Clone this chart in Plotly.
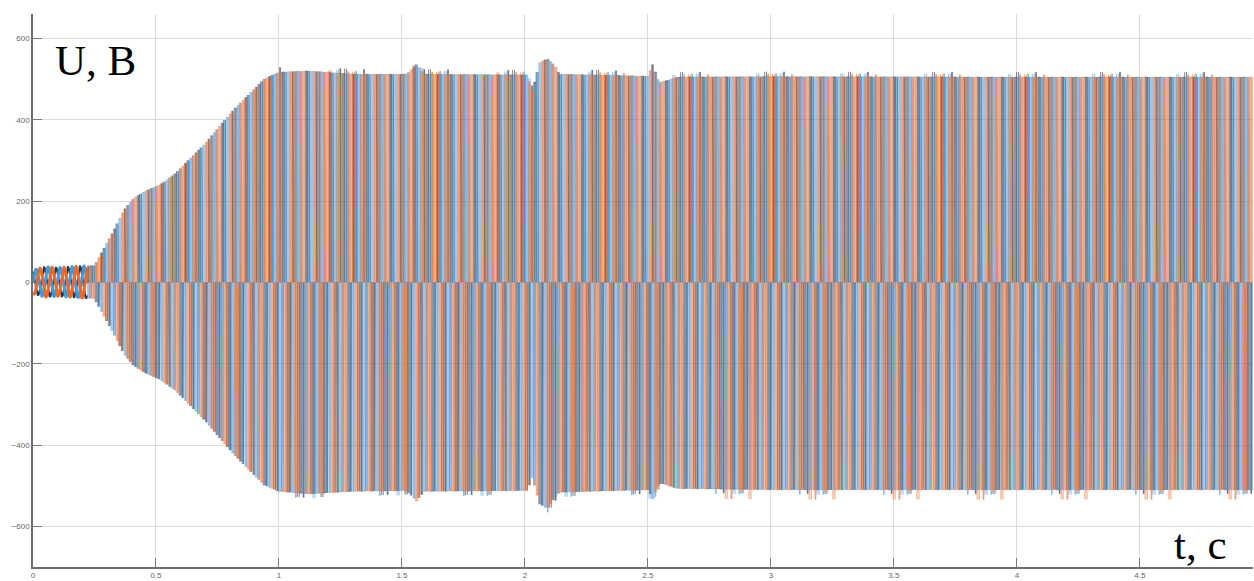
import numpy as np
import plotly.graph_objects as go

# Envelope of the inverter line voltage (V) versus time (s)
env_t = [0.00, 0.05, 0.10, 0.15, 0.20, 0.25, 0.29, 0.33, 0.37, 0.41, 0.455, 0.52,
         0.58, 0.64, 0.70, 0.76, 0.82, 0.88, 0.94, 1.00, 1.12, 1.30, 1.52, 1.56,
         1.59, 2.01, 2.03, 2.06, 2.09, 2.12, 2.14, 2.50, 2.52, 2.545, 2.57, 2.62,
         3.00, 4.00, 4.96]
env_upper = [30, 38, 36, 38, 40, 41, 85, 129, 178, 207, 224, 241,
             268, 305, 341, 385, 427, 463, 500, 517, 520, 512, 512, 536,
             512, 510, 470, 540, 550, 535, 512, 507, 536, 492, 495, 505,
             506, 505, 505]
env_lower = [-28, -36, -34, -36, -38, -40, -84, -128, -176, -205, -222, -240,
             -266, -303, -340, -383, -425, -462, -498, -514, -520, -514, -512, -538,
             -514, -512, -478, -545, -556, -530, -516, -510, -532, -494, -497, -507,
             -510, -510, -510]

# switching overshoot on short pulses (V), per line voltage: (positive, negative)
overshoot_v = [(8, -12), (6, -24), (12, -10)]
# time from which the overshoot appears, per line voltage (s)
overshoot_from = [1.0, 2.6, 1.0]

# PWM / drive parameters
f_fund = 20.5         # Hz, fundamental of the line voltage
f_carrier = 93.7      # Hz, asynchronous triangular carrier
mod_index = 0.95
t_pwm_start = 0.22    # s, modulator enabled

series_names = ["U_AB", "U_BC", "U_CA"]
series_colors = ["#3b9be3", "#ea6a2c", "#2f3646"]
series_width = [3.0, 3.0, 2.0]
series_fill = ["rgba(120,150,200,0.34)", "rgba(242,148,110,0.40)", "rgba(95,100,122,0.32)"]
series_edge = ["rgba(59,150,222,0.65)", "rgba(234,106,44,0.72)", "rgba(45,52,68,0.72)"]

x_ticks = [0, 0.5, 1, 1.5, 2, 2.5, 3, 3.5, 4, 4.5]
x_ticktext = ["0", "0.5", "1", "1.5", "2", "2.5", "3", "3.5", "4", "4.5"]
y_ticks = [-600, -400, -200, 0, 200, 400, 600]

t_end = env_t[-1]


def upper(t):
    return np.interp(t, env_t, env_upper)


def lower(t):
    return np.interp(t, env_t, env_lower)


fig = go.Figure()

# start-up interval: sinusoidal line voltages before the modulator starts
ts = np.linspace(0, t_pwm_start, 400)
for i in (2, 0, 1):
    s = np.sin(2 * np.pi * f_fund * ts - i * 2 * np.pi / 3)
    v = np.where(s >= 0, s * upper(ts), -s * lower(ts))
    fig.add_trace(go.Scatter(x=ts, y=v, mode="lines",
                             line=dict(color=series_colors[i], width=series_width[i]),
                             showlegend=False, hoverinfo="skip"))

# PWM interval: regular-sampled sine-triangle modulation, one rectangle per pulse
Tc = 1.0 / f_carrier
k = np.arange(int((t_end - t_pwm_start) / Tc))
tc = t_pwm_start + (k + 0.5) * Tc
duty = [(1 + mod_index * np.sin(2 * np.pi * f_fund * tc - i * 2 * np.pi / 3)) / 2
        for i in range(3)]
pairs = [(0, 1), (1, 2), (2, 0)]

for idx in (2, 0, 1):
    a, b = pairs[idx]
    da, db = duty[a], duty[b]
    hi = np.maximum(da, db)
    lo = np.minimum(da, db)
    pos = da > db
    h = np.where(pos, upper(tc), lower(tc))
    short = (hi - lo) < 0.22
    os_pos = short & pos & (tc > 1.0)
    os_neg = short & ~pos & (tc > overshoot_from[idx])
    h = h + np.where(os_pos, overshoot_v[idx][0], 0) + np.where(os_neg, overshoot_v[idx][1], 0)
    keep = (hi - lo) > 1e-3
    xs, ys = [], []
    for c, dh, dl, hh in zip(tc[keep], hi[keep], lo[keep], h[keep]):
        for x0, x1 in ((c - dh * Tc / 2, c - dl * Tc / 2), (c + dl * Tc / 2, c + dh * Tc / 2)):
            xs += [x0, x0, x1, x1, None]
            ys += [0, hh, hh, 0, None]
    fig.add_trace(go.Scatter(x=xs, y=ys, mode="lines", fill="toself",
                             fillcolor=series_fill[idx],
                             line=dict(color=series_edge[idx], width=0.5),
                             name=series_names[idx],
                             showlegend=False, hoverinfo="skip"))

# axis captions; plot area spans 14..572 px vertically and 33..1253 px horizontally
fig.add_annotation(x=(53 - 33) / 1220, y=1 - (61 - 14) / 558, xref="paper", yref="paper",
                   text="U, B", showarrow=False, xanchor="left", yanchor="middle",
                   font=dict(family="Liberation Serif", size=43, color="#000"))
fig.add_annotation(x=(1229 - 33) / 1220, y=1 - (549 - 14) / 558, xref="paper", yref="paper",
                   text="t, c", showarrow=False, xanchor="right", yanchor="middle",
                   font=dict(family="Liberation Serif", size=43, color="#000"))

axis_common = dict(showgrid=True, gridcolor="#dcdcdc", gridwidth=1,
                   showline=True, linecolor="#6e6e6e", linewidth=1.5,
                   ticks="inside", tickcolor="#7a7a7a", ticklen=9,
                   tickfont=dict(family="Liberation Sans", size=8, color="#666"),
                   zeroline=False)

fig.update_xaxes(range=[0, 4.96], tickvals=x_ticks, ticktext=x_ticktext, **axis_common)
fig.update_yaxes(range=[-700, 660], tickvals=y_ticks, **axis_common)

fig.update_layout(width=1254, height=581,
                  margin=dict(l=33, r=1, t=14, b=9, pad=0),
                  paper_bgcolor="white", plot_bgcolor="white")

fig.write_html("out.html")
